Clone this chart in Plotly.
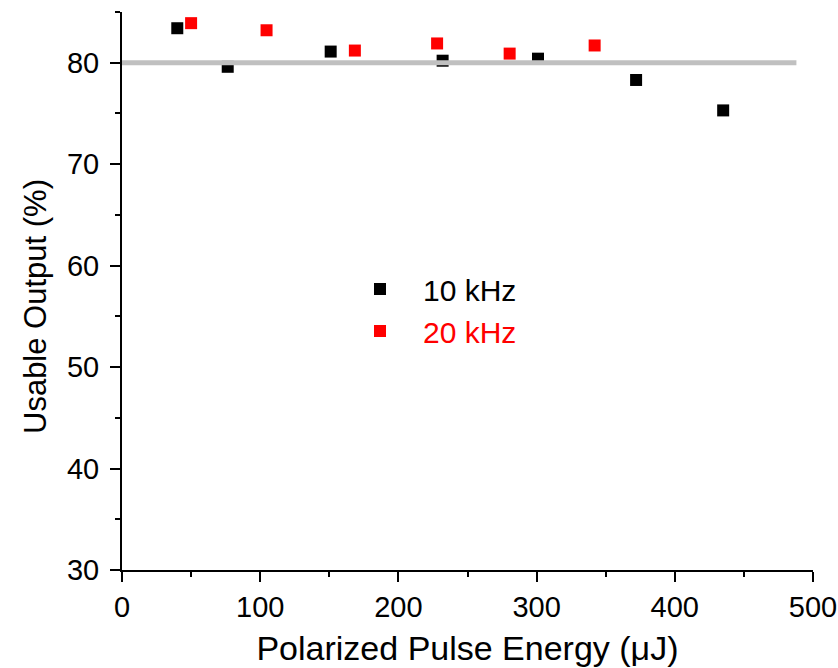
import plotly.graph_objects as go

# 10 kHz series
x_10 = [40, 76.5, 151, 232, 301, 372, 435]
y_10 = [83.4, 79.6, 81.1, 80.2, 80.4, 78.3, 75.3]
# 20 kHz series
x_20 = [50, 104.6, 168.5, 228, 280.5, 342]
y_20 = [83.9, 83.2, 81.2, 81.9, 80.9, 81.7]
# reference level line
ref_x = [0, 488]
ref_y = [80, 80]

x_ticks = [0, 100, 200, 300, 400, 500]
y_ticks = [30, 40, 50, 60, 70, 80]

FONT = "Arial"
W, H = 838, 668
ML, MR, MT, MB = 122, 25, 12, 98
PW, PH = W - ML - MR, H - MT - MB

fig = go.Figure()
fig.add_trace(go.Scatter(
    x=x_10, y=y_10, mode="markers", name="10 kHz",
    marker=dict(symbol="square", size=12, color="black", line=dict(width=0)),
))
fig.add_trace(go.Scatter(
    x=x_20, y=y_20, mode="markers",
    name='<span style="color:#ff0000">20 kHz</span>',
    marker=dict(symbol="square", size=12, color="#ff0000", line=dict(width=0)),
))
fig.add_trace(go.Scatter(
    x=ref_x, y=ref_y, mode="lines", showlegend=False,
    line=dict(color="#c0c0c0", width=5), hoverinfo="skip",
))

axis_common = dict(
    showline=True, linecolor="black", linewidth=2, mirror=False,
    showgrid=False, zeroline=False, automargin=False,
    ticks="outside", ticklen=10, tickwidth=2, tickcolor="black",
    tickfont=dict(family=FONT, size=29, color="black"),
)

fig.update_layout(
    width=W, height=H,
    margin=dict(l=ML, r=MR, t=MT, b=MB),
    paper_bgcolor="white", plot_bgcolor="white",
    font=dict(family=FONT, color="black"),
    xaxis=dict(
        range=[0, 500], tickvals=x_ticks, **axis_common,
        minor=dict(ticks="outside", ticklen=5, tickwidth=2, tickcolor="black", dtick=50, showgrid=False),
        title=dict(text="Polarized Pulse Energy (μJ)", font=dict(family=FONT, size=34), standoff=14),
    ),
    yaxis=dict(
        range=[30, 85], tickvals=y_ticks, **axis_common,
        ticklabelstandoff=5,
        minor=dict(ticks="outside", ticklen=5, tickwidth=2, tickcolor="black", dtick=5, tick0=30, showgrid=False),
    ),
    annotations=[dict(
        text="Usable Output (%)", textangle=-90, showarrow=False,
        xref="paper", yref="paper",
        x=(35 - ML) / PW, y=(H - MB - 307) / PH,
        xanchor="center", yanchor="middle",
        font=dict(family=FONT, size=31, color="black"),
    )],
    legend=dict(
        x=(337 - ML) / PW, y=(H - MB - 263) / PH,
        xanchor="left", yanchor="top",
        font=dict(family=FONT, size=30, color="black"),
        bgcolor="rgba(0,0,0,0)", itemwidth=76,
        tracegroupgap=0,
    ),
    showlegend=True,
)

fig.write_html("out.html")
